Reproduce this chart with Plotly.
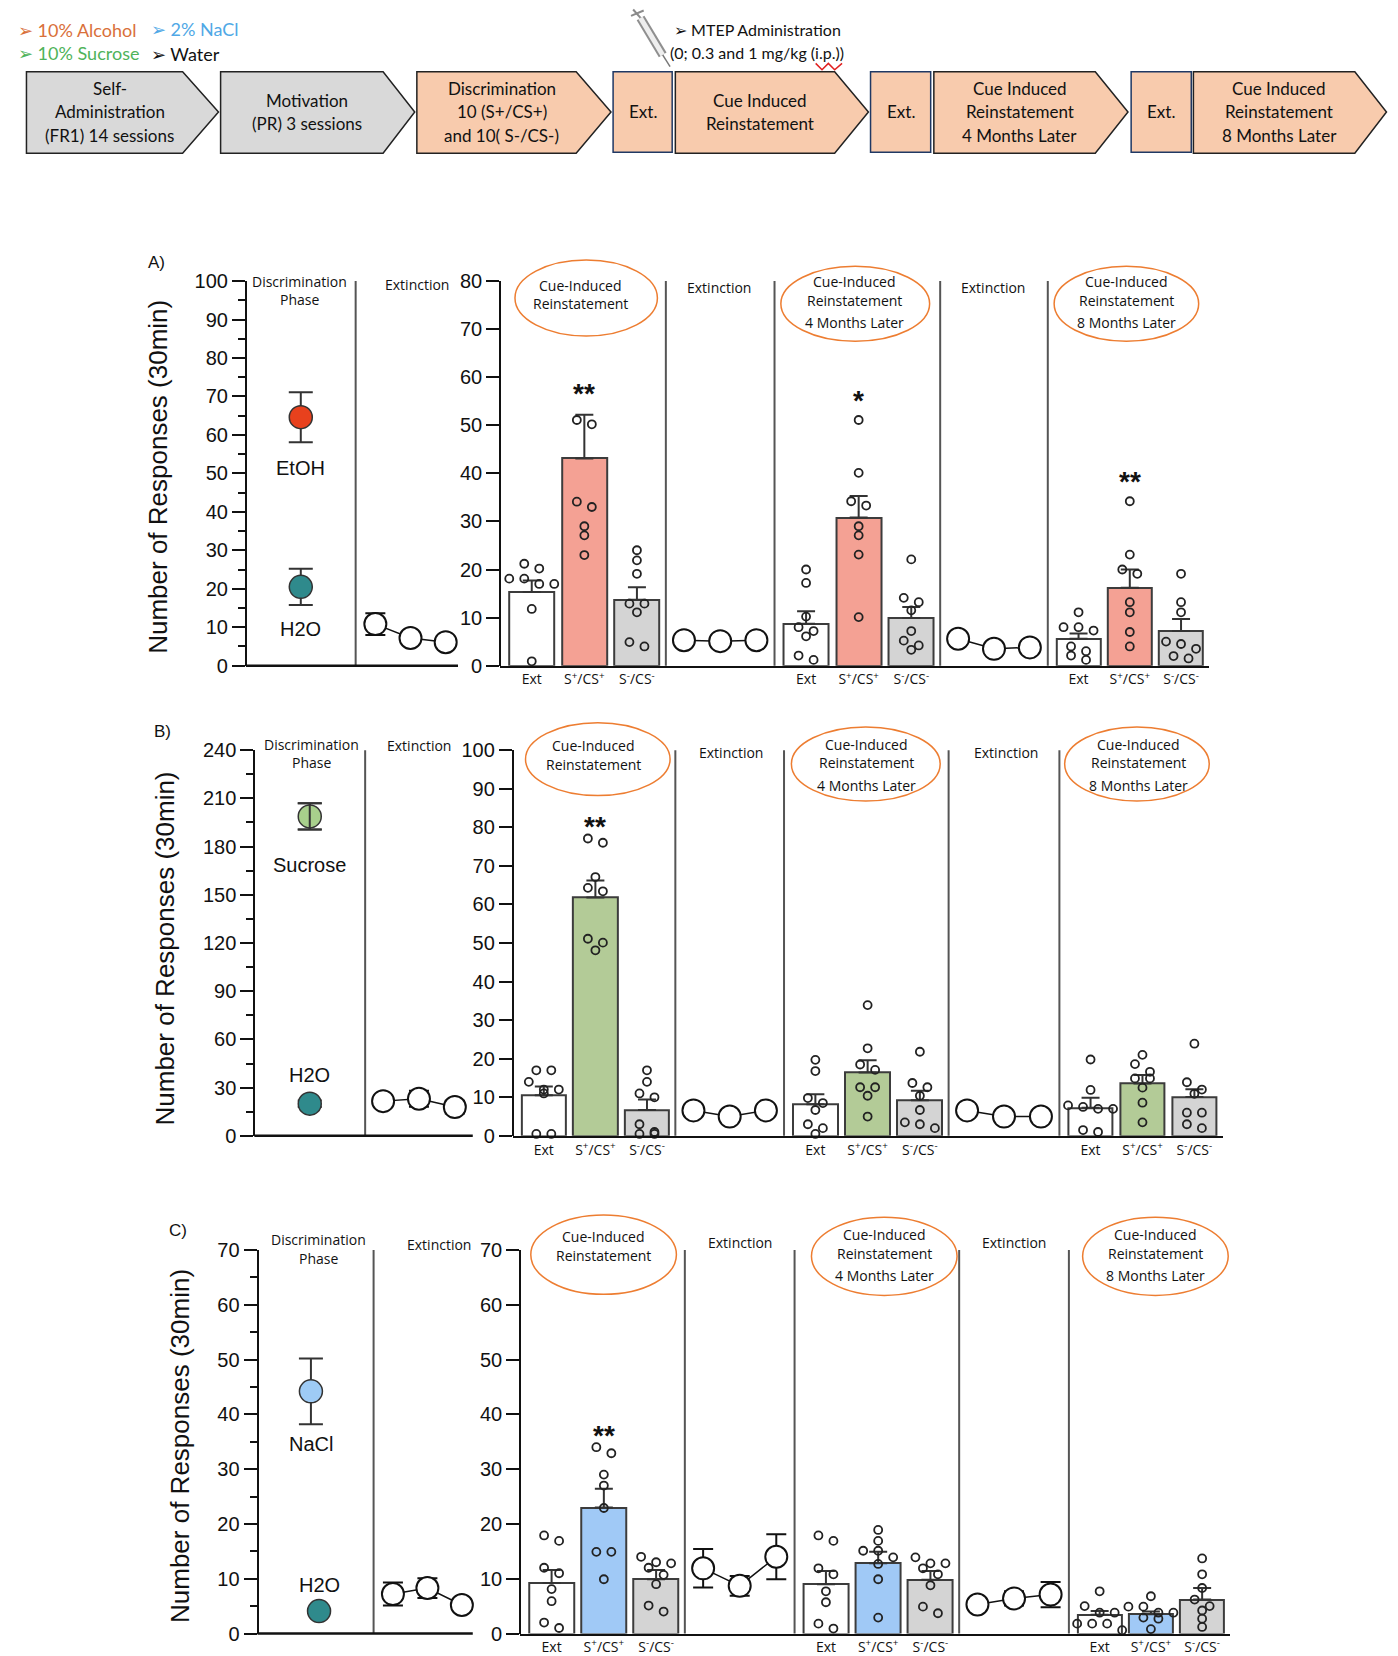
import plotly.graph_objects as go

# ---------------- data ----------------
PHASE_TICKS = ["Ext", "S<sup>+</sup>/CS<sup>+</sup>", "S<sup>-</sup>/CS<sup>-</sup>"]
EXT_TITLES = ["Cue-Induced", "Reinstatement"]

# A) 10% alcohol
A_DISC_NAMES = ["EtOH", "H2O"]
A_DISC_MEAN = [64.6, 20.5]
A_DISC_SEM = [6.5, 4.7]
A_DISC_LABEL_Y = [51.4, 9.5]
A_EXT1_MEAN = [10.8, 7.2, 6.1]
A_EXT1_SEM = [2.8, 0.6, 0.5]
A_EXT2_MEAN = [5.3, 5.1, 5.3]
A_EXT2_SEM = [0.4, 0.3, 0.3]
A_EXT3_MEAN = [5.6, 3.5, 3.8]
A_EXT3_SEM = [0.4, 0.3, 0.3]
A_RE_MEAN = [15.3, 43.1, 13.7]
A_RE_SEM = [2.4, 9.1, 2.6]
A_RE_PTS = [[17.0, 20.2, 18.1, 21.2, 17.0, 18.1, 11.8, 0.9],
            [51.1, 50.2, 34.1, 33.0, 29.0, 27.1, 23.0],
            [24.0, 21.9, 19.1, 12.9, 12.9, 11.1, 4.0, 4.9]]
A_4M_MEAN = [8.7, 30.8, 9.9]
A_4M_SEM = [2.6, 4.5, 2.3]
A_4M_PTS = [[20.0, 17.2, 10.2, 8.0, 7.2, 6.1, 1.2, 2.1],
            [51.1, 40.1, 33.3, 34.2, 29.0, 27.1, 23.1, 10.1],
            [22.1, 13.2, 14.1, 11.5, 7.2, 5.2, 4.2, 3.3]]
A_8M_MEAN = [5.6, 16.2, 7.2]
A_8M_SEM = [1.1, 3.8, 2.5]
A_8M_PTS = [[11.1, 8.0, 7.3, 8.0, 3.0, 4.0, 2.1, 1.2],
            [34.2, 23.1, 19.1, 20.0, 13.2, 11.1, 7.0, 4.0],
            [19.1, 13.2, 11.1, 5.0, 3.5, 2.0, 4.5, 1.5]]
A_STARS = ["**", "*", "**"]
A_STAR_Y = [58.1, 56.6, 39.7]

# B) 10% sucrose
B_DISC_NAMES = ["Sucrose", "H2O"]
B_DISC_MEAN = [198.8, 20.0]
B_DISC_SEM = [8.2, 2.0]
B_DISC_LABEL_Y = [168.6, 37.6]
B_EXT1_MEAN = [21.6, 23.1, 17.9]
B_EXT1_SEM = [2.0, 5.0, 4.0]
B_EXT2_MEAN = [6.6, 5.0, 6.6]
B_EXT2_SEM = [0.4, 0.3, 0.4]
B_EXT3_MEAN = [6.6, 5.0, 5.0]
B_EXT3_SEM = [0.4, 0.3, 0.3]
B_RE_MEAN = [10.5, 61.8, 6.7]
B_RE_SEM = [2.3, 4.4, 2.7]
B_RE_PTS = [[17.0, 17.0, 14.0, 12.0, 12.0, 11.0, 0.5, 0.5],
            [76.0, 77.1, 67.1, 64.3, 63.4, 51.1, 50.1, 48.1],
            [17.0, 14.0, 10.0, 11.0, 3.0, 1.0, 0.5, 0.5]]
B_4M_MEAN = [8.2, 16.4, 9.2]
B_4M_SEM = [2.6, 3.2, 2.5]
B_4M_PTS = [[19.7, 16.8, 9.8, 8.5, 6.7, 3.0, 2.0, 0.5],
            [33.9, 22.7, 18.5, 17.1, 12.6, 12.6, 10.4, 5.0],
            [21.8, 12.6, 13.7, 10.4, 6.7, 3.5, 2.0, 3.0]]
B_8M_MEAN = [7.3, 13.6, 10.1]
B_8M_SEM = [2.6, 2.2, 2.0]
B_8M_PTS = [[19.8, 11.9, 7.5, 7.0, 7.0, 7.9, 1.5, 1.0],
            [21.0, 18.6, 16.6, 14.9, 14.9, 12.5, 8.6, 3.5],
            [23.9, 13.9, 12.0, 10.9, 6.0, 6.0, 3.0, 2.0]]
B_STARS = ["**", "", ""]
B_STAR_Y = [81.9, 0, 0]

# C) 2% NaCl
C_DISC_NAMES = ["NaCl", "H2O"]
C_DISC_MEAN = [44.2, 4.1]
C_DISC_SEM = [6.0, 0.4]
C_DISC_LABEL_Y = [34.5, 8.9]
C_EXT1_MEAN = [7.2, 8.3, 5.2]
C_EXT1_SEM = [2.1, 1.8, 0.5]
C_EXT2_MEAN = [11.9, 8.7, 14.0]
C_EXT2_SEM = [3.5, 1.8, 4.1]
C_EXT3_MEAN = [5.3, 6.4, 7.1]
C_EXT3_SEM = [0.5, 1.3, 2.3]
C_RE_MEAN = [9.2, 23.0, 9.9]
C_RE_SEM = [2.4, 3.4, 1.7]
C_RE_PTS = [[16.9, 17.9, 11.0, 12.0, 8.1, 5.9, 2.0, 1.0],
            [32.9, 34.0, 29.0, 27.0, 22.9, 14.9, 14.9, 9.9],
            [12.8, 13.0, 14.0, 12.0, 10.7, 9.0, 4.0, 5.1]]
C_4M_MEAN = [9.0, 12.8, 9.8]
C_4M_SEM = [2.4, 2.1, 1.6]
C_4M_PTS = [[16.9, 17.9, 10.8, 11.9, 7.7, 5.7, 1.8, 0.9],
            [18.9, 16.9, 15.1, 13.9, 15.1, 12.7, 9.9, 2.9],
            [12.8, 12.8, 13.9, 11.9, 10.8, 8.8, 3.7, 4.9]]
C_8M_MEAN = [3.4, 3.5, 6.2]
C_8M_SEM = [0.7, 0.5, 2.1]
C_8M_PTS = [[7.7, 5.0, 3.8, 3.8, 1.8, 1.8, 1.8, 0.6],
            [6.8, 4.9, 4.9, 3.8, 3.8, 2.9, 2.7, 0.8],
            [13.7, 10.8, 8.3, 6.2, 5.0, 4.2, 2.7, 1.2]]
C_STARS = ["**", "", ""]
C_STAR_Y = [37.5, 0, 0]

# ---------------- styling ----------------
W, H = 1398, 1656
SW, SH = 1325.0, 1570.0          # frame the layout was sketched in
INK = "#111111"
SEP = "#555555"
ARIAL = "Liberation Sans, Arial, sans-serif"
SMALL = "Open Sans, sans-serif"
SCHEME = "Lato, Open Sans, sans-serif"
ORANGE = "#ed7d31"
GRAY_BAR = "#d4d4d4"
TEAL = "#2f8a8c"
BAR_RANGE = [-0.6, 2.55]
EXT_RANGE = [-0.5, 2.5]
BAR_W = 0.86
DOT_ROW_PX = 8.0
DOT_GAP_PX = 15.0
LBL = 14


def px(x):
    return (x - 6.5) / SW


def py(y):
    return 1 - ((y - 18) / 0.985) / SH


def ax(k):
    return "x" if k == 1 else f"x{k}"


def ay(k):
    return "y" if k == 1 else f"y{k}"


shapes, annos, axes = [], [], {}
fig = go.Figure()


def note(text, x, y, size=LBL, family=SMALL, color=INK, xanchor="center", **kw):
    annos.append(dict(text=text, x=px(x), y=py(y), xref="paper", yref="paper",
                      showarrow=False, xanchor=xanchor, yanchor="middle",
                      font=dict(size=size, family=family, color=color), **kw))


def pline(x0, y0, x1, y1, color=INK, width=2):
    shapes.append(dict(type="line", xref="paper", yref="paper", x0=px(x0), y0=py(y0),
                       x1=px(x1), y1=py(y1), line=dict(color=color, width=width)))


def swarm_x(center, vals, ppu_y, ppu_x):
    order = sorted(range(len(vals)), key=lambda i: -vals[i])
    rows = []
    for i in order:
        if rows and (vals[rows[-1][0]] - vals[i]) * ppu_y < DOT_ROW_PX:
            rows[-1].append(i)
        else:
            rows.append([i])
    xs = [center] * len(vals)
    for r in rows:
        for k, i in enumerate(r):
            xs[i] = center + (k - (len(r) - 1) / 2) * DOT_GAP_PX / ppu_x
    return xs


# ---------------- top schematic ----------------
for txt, x, y, col in [("➢ 10% Alcohol", 14, 28, "#d9703a"), ("➢ 2% NaCl", 140, 27, "#4fa8e6"),
                       ("➢ 10% Sucrose", 14, 50, "#4fb35a"), ("➢ Water", 140, 51, INK)]:
    note(txt, x, y, size=18, family=SCHEME, color=col, xanchor="left")
note("➢ MTEP Administration", 636, 28, size=16, family=SCHEME, xanchor="left")
note("(0; 0.3 and 1 mg/kg (i.p.))", 632, 50, size=16, family=SCHEME, xanchor="left")

# syringe icon
pline(599, 9, 606, 17, "#8a8a8a", 2)
pline(597, 15, 609, 10, "#8a8a8a", 2)
pline(606, 17, 627, 52, "#8f8f8f", 9)
pline(606, 17, 627, 52, "#eeeeee", 5)
pline(627, 52, 634, 63, "#777777", 1.5)
shapes.append(dict(type="path", xref="paper", yref="paper", line=dict(color="#e02020", width=1.5),
                   path="M {} {} L {} {} L {} {} L {} {} L {} {}".format(
                       px(772), py(60), px(778), py(66), px(784), py(60), px(790), py(66), px(797), py(60))))

PENTAGONS = [
    (24, 172, 206, "#d9d9d9", ["Self-", "Administration", "(FR1) 14 sessions"]),
    (208, 362, 392, "#d9d9d9", ["Motivation", "(PR) 3 sessions"]),
    (394, 545, 578, "#f8cbad", ["Discrimination", "10 (S+/CS+)", "and 10( S-/CS-)"]),
    (639, 790, 822, "#f8cbad", ["Cue Induced", "Reinstatement"]),
    (884, 1037, 1068, "#f8cbad", ["Cue Induced", "Reinstatement", "4 Months Later"]),
    (1130, 1283, 1313, "#f8cbad", ["Cue Induced", "Reinstatement", "8 Months Later"]),
]
TOP, BOT, MID = 68, 145, 106
for x0, x1, x2, col, lines in PENTAGONS:
    path = "M {a} {t} L {b} {t} L {c} {m} L {b} {bt} L {a} {bt} Z".format(
        a=px(x0), b=px(x1), c=px(x2), t=py(TOP), m=py(MID), bt=py(BOT))
    shapes.append(dict(type="path", xref="paper", yref="paper", path=path, fillcolor=col,
                       line=dict(color="#222222", width=1.5), layer="below"))
    n = len(lines)
    for k, t in enumerate(lines):
        note(t, (x0 + x1) / 2 + 5, MID + (k - (n - 1) / 2) * 22, size=17, family=SCHEME)
for x0, x1 in [(580, 636), (824, 881), (1071, 1128)]:
    shapes.append(dict(type="rect", xref="paper", yref="paper", x0=px(x0), x1=px(x1),
                       y0=py(BOT - 1), y1=py(TOP), fillcolor="#f8cbad",
                       line=dict(color="#1f3864", width=1.5), layer="below"))
    note("Ext.", (x0 + x1) / 2, MID, size=17, family=SCHEME)

# ---------------- panels ----------------
GEOM = [
    dict(lx=232, rx=473, top=266, bot=630, sep=336, e1=(338, 438), lbot_end=433,
         blocks=[473, 630, 733, 890, 992, 1145], lrange=[0, 100], ldtick=10, lminor=5,
         rrange=[0, 80], disc_x=[0.5, 0.5], letter=("A)", 147, 248), ytitle=(148, 451),
         disc_text=(283, [266, 283]), ext1_text=(394, 269), ext_texts=[(680, 272), (940, 272)],
         ellipses=[(487, 246, 622, 318), (739, 252, 880, 323), (998, 252, 1135, 323)],
         ell_text=[(549, [270, 287]), (809, [266, 284, 305]), (1067, [266, 284, 305])],
         splus="#f4a194", disc_cols=["#e8411d", TEAL], err_top=[]),
    dict(lx=240, rx=485, top=710, bot=1075, sep=345, e1=(345, 447), lbot_end=447,
         blocks=[485, 639, 742, 898, 1003, 1158], lrange=[0, 240], ldtick=30, lminor=15,
         rrange=[0, 100], disc_x=[0.5, 0.5], letter=("B)", 153, 692), ytitle=(155, 898),
         disc_text=(294, [705, 722]), ext1_text=(396, 706), ext_texts=[(692, 712), (952, 712)],
         ellipses=[(497, 684, 634, 753), (749, 688, 890, 758), (1008, 688, 1145, 758)],
         ell_text=[(561, [706, 724]), (820, [705, 722, 743]), (1078, [705, 722, 743])],
         splus="#b3cb97", disc_cols=["#a8cf8c", TEAL], err_top=[0]),
    dict(lx=243, rx=492, top=1183, bot=1546, sep=353, e1=(355, 453), lbot_end=447,
         blocks=[492, 648, 752, 908, 1012, 1165], lrange=[0, 70], ldtick=10, lminor=5,
         rrange=[0, 70], disc_x=[0.46, 0.53], letter=("C)", 168, 1165), ytitle=(170, 1369),
         disc_text=(301, [1173, 1191]), ext1_text=(415, 1178), ext_texts=[(700, 1176), (960, 1176)],
         ellipses=[(502, 1150, 640, 1225), (768, 1152, 906, 1226), (1025, 1152, 1163, 1226)],
         ell_text=[(571, [1170, 1188]), (837, [1168, 1186, 1207]), (1094, [1168, 1186, 1207])],
         splus="#a0c9f6", disc_cols=["#9ecbf5", TEAL], err_top=[]),
]

DATA = [
    dict(names=A_DISC_NAMES, dmean=A_DISC_MEAN, dsem=A_DISC_SEM, dlab=A_DISC_LABEL_Y,
         ext=[(A_EXT1_MEAN, A_EXT1_SEM), (A_EXT2_MEAN, A_EXT2_SEM), (A_EXT3_MEAN, A_EXT3_SEM)],
         bars=[(A_RE_MEAN, A_RE_SEM, A_RE_PTS), (A_4M_MEAN, A_4M_SEM, A_4M_PTS), (A_8M_MEAN, A_8M_SEM, A_8M_PTS)],
         stars=A_STARS, stary=A_STAR_Y),
    dict(names=B_DISC_NAMES, dmean=B_DISC_MEAN, dsem=B_DISC_SEM, dlab=B_DISC_LABEL_Y,
         ext=[(B_EXT1_MEAN, B_EXT1_SEM), (B_EXT2_MEAN, B_EXT2_SEM), (B_EXT3_MEAN, B_EXT3_SEM)],
         bars=[(B_RE_MEAN, B_RE_SEM, B_RE_PTS), (B_4M_MEAN, B_4M_SEM, B_4M_PTS), (B_8M_MEAN, B_8M_SEM, B_8M_PTS)],
         stars=B_STARS, stary=B_STAR_Y),
    dict(names=C_DISC_NAMES, dmean=C_DISC_MEAN, dsem=C_DISC_SEM, dlab=C_DISC_LABEL_Y,
         ext=[(C_EXT1_MEAN, C_EXT1_SEM), (C_EXT2_MEAN, C_EXT2_SEM), (C_EXT3_MEAN, C_EXT3_SEM)],
         bars=[(C_RE_MEAN, C_RE_SEM, C_RE_PTS), (C_4M_MEAN, C_4M_SEM, C_4M_PTS), (C_8M_MEAN, C_8M_SEM, C_8M_PTS)],
         stars=C_STARS, stary=C_STAR_Y),
]

TICKFONT = dict(family=ARIAL, size=20, color=INK)

for i, (g, d) in enumerate(zip(GEOM, DATA)):
    yl, yr = 2 * i + 1, 2 * i + 2
    xs = [7 * i + k for k in range(1, 8)]   # disc, ext1, reinst, ext2, 4m, ext3, 8m
    ydom = [py(g["bot"]), py(g["top"])]
    yax = dict(domain=ydom, anchor="free", showline=True, linecolor=INK, linewidth=2,
               ticks="outside", ticklen=13, tickwidth=2, tickcolor=INK, tick0=0,
               tickfont=TICKFONT, showgrid=False, zeroline=False, fixedrange=True)
    axes["yaxis" if yl == 1 else f"yaxis{yl}"] = dict(
        yax, range=g["lrange"], position=px(g["lx"]), dtick=g["ldtick"],
        minor=dict(dtick=g["lminor"], ticks="outside", ticklen=7, tickwidth=2, tickcolor=INK))
    axes[f"yaxis{yr}"] = dict(yax, range=g["rrange"], position=px(g["rx"]), dtick=10)

    b = g["blocks"]
    doms = [(g["lx"], g["sep"]), g["e1"], (b[0], b[1]), (b[1], b[2]), (b[2], b[3]), (b[3], b[4]), (b[4], b[5])]
    for j, k in enumerate(xs):
        key = "xaxis" if k == 1 else f"xaxis{k}"
        base = dict(domain=[px(doms[j][0]), px(doms[j][1])], anchor=ay(yl if j < 2 else yr),
                    showgrid=False, zeroline=False, fixedrange=True)
        if j == 0:
            axes[key] = dict(base, range=[0, 1], visible=False)
        elif j == 1:
            axes[key] = dict(base, range=EXT_RANGE, visible=False)
        elif j in (3, 5):
            axes[key] = dict(base, range=EXT_RANGE, showline=True, linecolor=INK, linewidth=2,
                             showticklabels=False, ticks="")
        else:
            axes[key] = dict(base, range=BAR_RANGE, showline=True, linecolor=INK, linewidth=2,
                             ticks="", tickmode="array", tickvals=[0, 1, 2], ticktext=PHASE_TICKS,
                             tickfont=dict(family=SMALL, size=14, color=INK))

    # discrimination phase
    fig.add_trace(go.Scatter(
        x=g["disc_x"], y=d["dmean"], mode="markers", xaxis=ax(xs[0]), yaxis=ay(yl), cliponaxis=False,
        marker=dict(size=23, color=g["disc_cols"], line=dict(color="#333333", width=1.5)),
        error_y=dict(type="data", array=d["dsem"], color="#333333", thickness=2, width=12)))
    if g["err_top"]:
        sel = g["err_top"]
        fig.add_trace(go.Scatter(
            x=[g["disc_x"][k] for k in sel], y=[d["dmean"][k] for k in sel], mode="markers",
            xaxis=ax(xs[0]), yaxis=ay(yl), cliponaxis=False,
            marker=dict(size=1, color="rgba(0,0,0,0)"),
            error_y=dict(type="data", array=[d["dsem"][k] for k in sel], color="#333333",
                         thickness=2, width=12)))
    for nm, xv, yv in zip(d["names"], g["disc_x"], d["dlab"]):
        annos.append(dict(text=nm, x=xv, y=yv, xref=ax(xs[0]), yref=ay(yl), showarrow=False,
                          font=dict(family=ARIAL, size=20, color=INK)))

    # extinction sessions
    for j, (m, s) in zip((1, 3, 5), d["ext"]):
        fig.add_trace(go.Scatter(
            x=[0, 1, 2], y=m, mode="lines+markers", xaxis=ax(xs[j]), yaxis=ay(yl if j == 1 else yr),
            cliponaxis=False, line=dict(color=INK, width=1.5),
            marker=dict(size=22, color="white", line=dict(color=INK, width=2)),
            error_y=dict(type="data", array=s, color=INK, thickness=2, width=10)))

    # reinstatement tests
    ppu_y = (g["bot"] - g["top"]) / SH * H / (g["rrange"][1] - g["rrange"][0])
    for bi, (j, (m, s, pts)) in enumerate(zip((2, 4, 6), d["bars"])):
        fig.add_trace(go.Bar(
            x=[0, 1, 2], y=m, width=BAR_W, xaxis=ax(xs[j]), yaxis=ay(yr),
            marker=dict(color=["white", g["splus"], GRAY_BAR], line=dict(color="#3c3c3c", width=2)),
            error_y=dict(type="data", array=s, arrayminus=[0, 0, 0], symmetric=False,
                         color="#333333", thickness=2, width=9)))
        ppu_x = (doms[j][1] - doms[j][0]) / SW * W / (BAR_RANGE[1] - BAR_RANGE[0])
        dx, dy = [], []
        for c, vals in enumerate(pts):
            dx += swarm_x(c, vals, ppu_y, ppu_x)
            dy += vals
        fig.add_trace(go.Scatter(
            x=dx, y=dy, mode="markers", xaxis=ax(xs[j]), yaxis=ay(yr), cliponaxis=False,
            marker=dict(symbol="circle-open", size=8, color="#222222", line=dict(width=1.8))))
        if d["stars"][bi]:
            annos.append(dict(text="<b>" + d["stars"][bi] + "</b>", x=1, y=d["stary"][bi],
                              xref=ax(xs[j]), yref=ay(yr), showarrow=False, yshift=-7,
                              font=dict(family=ARIAL, size=28, color=INK)))

    # separators and baselines
    for xsep in [g["sep"]] + b[1:-1]:
        pline(xsep, g["top"], xsep, g["bot"], SEP, 2)
    pline(g["lx"], g["bot"], g["lbot_end"], g["bot"], INK, 2.5)

    # labels
    lt, lx_, ly_ = g["letter"]
    note(lt, lx_, ly_, size=17, family=ARIAL)
    note("Number of Responses (30min)", g["ytitle"][0], g["ytitle"][1], size=26, family=ARIAL,
         textangle=-90)
    for k, t in enumerate(["Discrimination", "Phase"]):
        note(t, g["disc_text"][0], g["disc_text"][1][k])
    note("Extinction", g["ext1_text"][0], g["ext1_text"][1])
    for ex, ey in g["ext_texts"]:
        note("Extinction", ex, ey)
    for ei, ((x0, y0, x1, y1), (tx, tys)) in enumerate(zip(g["ellipses"], g["ell_text"])):
        shapes.append(dict(type="circle", xref="paper", yref="paper", x0=px(x0), x1=px(x1),
                           y0=py(y1), y1=py(y0), line=dict(color=ORANGE, width=1.5)))
        lines = EXT_TITLES + ([] if ei == 0 else [f"{4 * ei} Months Later"])
        for t, ty in zip(lines, tys):
            note(t, tx, ty)

fig.update_layout(
    width=W, height=H, autosize=False, showlegend=False,
    margin=dict(l=0, r=0, t=0, b=0),
    paper_bgcolor="white", plot_bgcolor="white",
    bargap=0, shapes=shapes, annotations=annos, **axes)

fig.write_html("out.html")
